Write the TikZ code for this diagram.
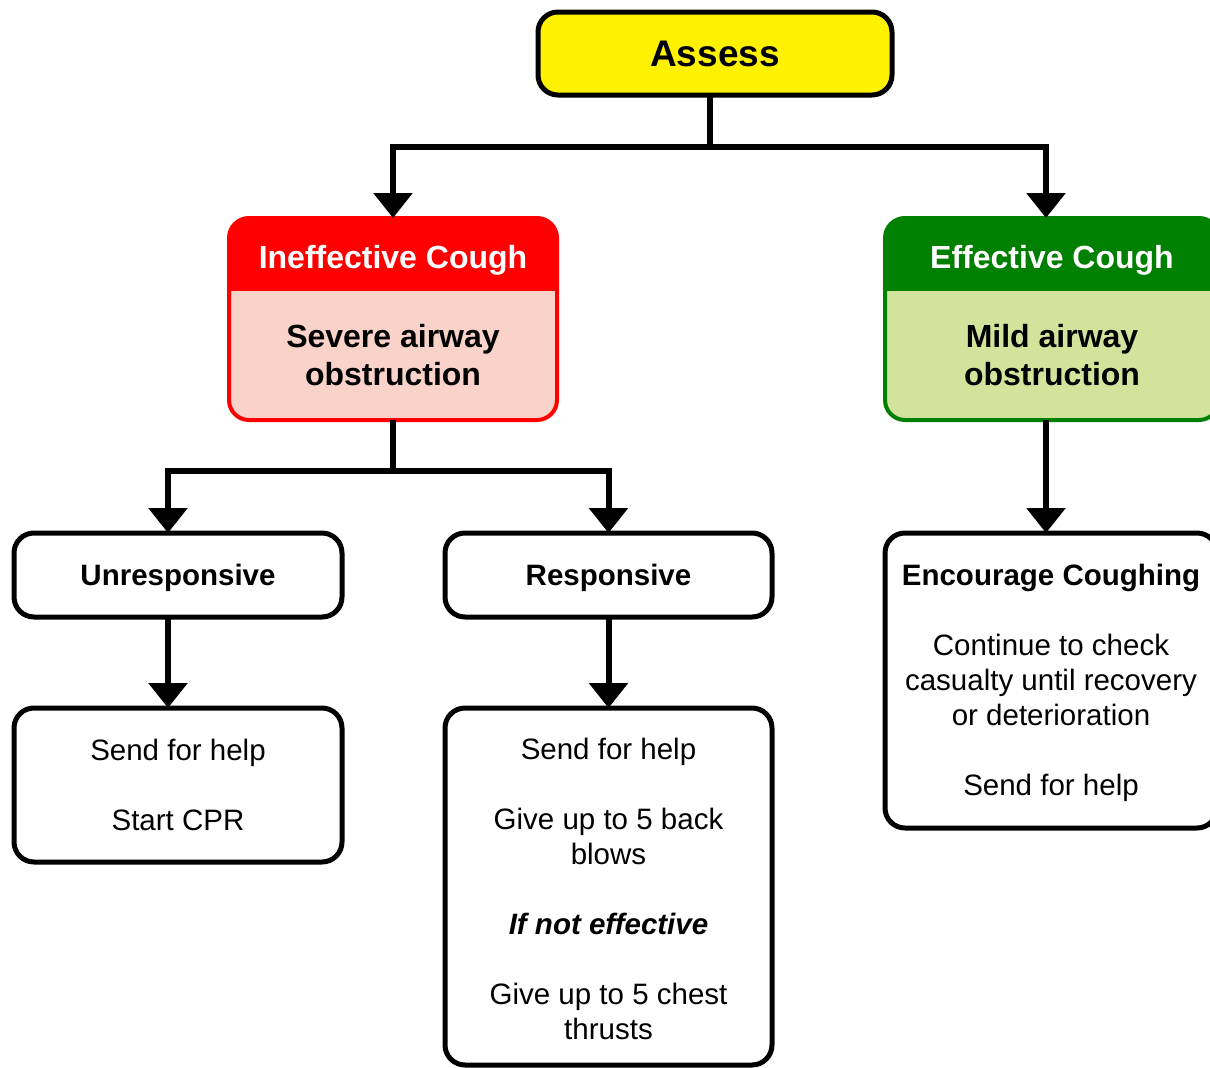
\documentclass[tikz,border=0pt]{standalone}
\usepackage{fontspec}
\setmainfont{Liberation Sans}
\usetikzlibrary{positioning,arrows.meta}
\definecolor{assessyellow}{HTML}{FFF200}
\definecolor{coughred}{HTML}{FF0000}
\definecolor{severepink}{HTML}{F9D3C9}
\definecolor{coughgreen}{HTML}{008000}
\definecolor{mildgreen}{HTML}{D4E39C}
\newcommand{\linestrut}{\rule{0pt}{27pt}}
\tikzset{
  box/.style={draw=black, fill=white, line width=5pt, rounded corners=20pt, align=center, inner sep=0pt, outer sep=0pt, font=\fontsize{29.5}{35}\selectfont},
  headbox/.style={box, text depth=0pt, font=\fontsize{29.5}{35}\selectfont\bfseries},
  head/.style={draw=none, inner sep=0pt, outer sep=0pt, text=white, text height=35pt, font=\fontsize{32}{38}\selectfont\bfseries},
  body/.style={draw=none, inner sep=0pt, outer sep=0pt, align=center, font=\fontsize{32}{38}\selectfont\bfseries},
  >={Triangle[width=38pt,length=25pt]}
}

\begin{document}
\begin{tikzpicture}[x=1pt, y=-1pt, line width=6pt]
  \useasboundingbox (0,0) rectangle (1210,1068);
  % Nodes
  \node (assess) [box, fill=assessyellow, minimum width=354, minimum height=83, font=\fontsize{37}{44}\selectfont\bfseries] at (715,53.5) {Assess};

  \begin{scope}
    \clip[rounded corners=20pt] (229,218) rectangle (557,420);
    \node (ineff) [head, fill=coughred, minimum width=328, minimum height=73] at (393,254.5) {Ineffective Cough};
    \node (severe) [body, fill=severepink, below=0pt of ineff, minimum width=328, minimum height=129] {Severe airway\\obstruction};
  \end{scope}
  \draw[coughred, line width=4pt, rounded corners=20pt] (ineff.north west) rectangle (severe.south east);

  \begin{scope}
    \clip[rounded corners=20pt] (885,218) rectangle (1219,420);
    \node (effc) [head, fill=coughgreen, minimum width=334, minimum height=73] at (1052,254.5) {Effective Cough};
    \node (mildobs) [body, fill=mildgreen, below=0pt of effc, minimum width=334, minimum height=129] {Mild airway\\obstruction};
  \end{scope}
  \draw[coughgreen, line width=4pt, rounded corners=20pt] (effc.north west) rectangle (mildobs.south east);

  \node (unresp) [headbox, minimum width=328, minimum height=84] at (178,575) {Unresponsive};
  \node (resp) [headbox, minimum width=327, minimum height=84] at (608.5,575) {Responsive};
  \node (cpr) [box, minimum width=328, minimum height=154] at (178,785) {Send for help\\[35pt]Start CPR};
  \node (backblows) [box, minimum width=327, minimum height=357] at (608.5,886.5) {\linestrut Send for help\\[35pt]Give up to 5 back\\blows\\[35pt]\textbf{\textit{If not effective}}\\[35pt]Give up to 5 chest\\thrusts};
  \node (encourage) [box, minimum width=332, minimum height=295] at (1051,680.5) {\linestrut\textbf{Encourage Coughing}\\[35pt]Continue to check\\casualty until recovery\\or deterioration\\[35pt]Send for help};

  % Connectors
  \coordinate (split1) at (710,147);
  \coordinate (split2) at (393,471);
  \draw (split1 |- assess.south) -- (split1);
  \draw[->] (split1) -| (ineff.north);
  \draw[->] (split1) -| ([xshift=-6]effc.north);
  \draw (severe.south) -- (split2);
  \draw[->] (split2) -| ([xshift=-10]unresp.north);
  \draw[->] (split2) -| (resp.north);
  \draw[->] ([xshift=-10]unresp.south) -- ([xshift=-10]cpr.north);
  \draw[->] (resp.south) -- (backblows.north);
  \draw[->] ([xshift=-6]mildobs.south) -- ([xshift=-5]encourage.north);
\end{tikzpicture}
\end{document}
